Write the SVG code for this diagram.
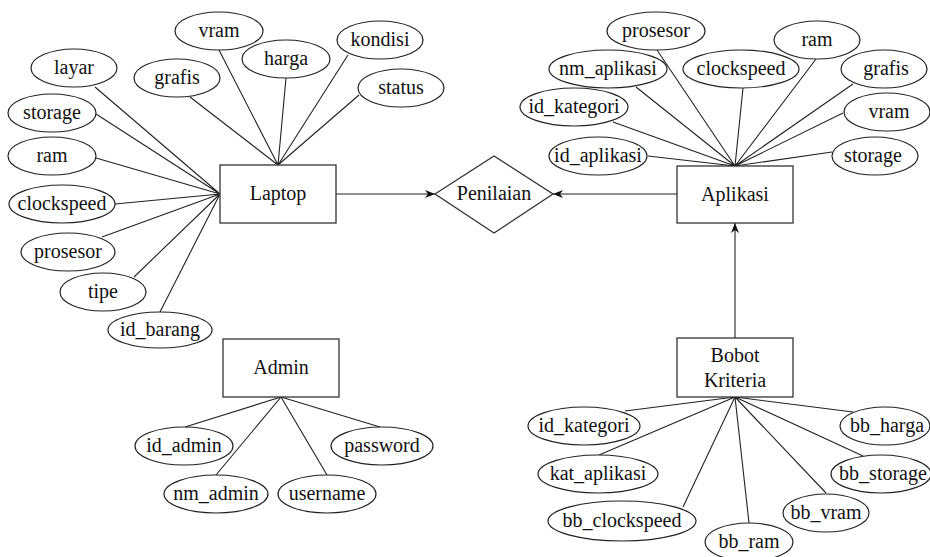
<svg xmlns="http://www.w3.org/2000/svg" width="930" height="557" viewBox="0 0 930 557">
<style>
.e{fill:#fff;stroke:#222;stroke-width:1.2}
.r{fill:#fff;stroke:#333;stroke-width:1.3}
.l{stroke:#222;stroke-width:1.1;fill:none}
.t{font-family:'Liberation Serif','Times New Roman',serif;font-size:20px;fill:#111;text-anchor:middle}
</style>
<defs>
<marker id="ah" viewBox="0 0 10 10" refX="10" refY="5" markerWidth="10" markerHeight="10" markerUnits="userSpaceOnUse" orient="auto">
<path d="M0,1 L10,5 L0,9 L3,5 Z" fill="#111"/>
</marker>
</defs>
<rect width="930" height="557" fill="#fff"/>
<g id="connectors">
<path class="l" d="M219,50 L278,165 M286,78 L278,165 M348,55 L278,165 M359,95 L278,165 M190,97 L278,165"/>
<path class="l" d="M95,87 L220,194 M96,114 L220,194 M96,158 L220,194 M115,204 L220,194 M102,237 L220,194 M134,277 L220,194 M160,312 L220,194"/>
<path class="l" d="M657,50 L735,166 M636,87 L735,166 M613,122 L735,166 M648,156 L735,166 M743,88 L735,166 M816,59 L735,166 M853,84 L735,166 M843,113 L735,166 M832,152 L735,166"/>
<path class="l" d="M625,411 L735,397 M599,455 L735,397 M683,507 L735,397 M749,523 L735,397 M826,493 L735,397 M863,456 L735,397 M853,412 L735,397"/>
<path class="l" d="M185,427 L281,397 M216,475 L281,397 M327,475 L281,397 M380,427 L281,397"/>
<line class="l" x1="336" y1="194" x2="435" y2="194" marker-end="url(#ah)"/>
<line class="l" x1="677" y1="194" x2="553" y2="194" marker-end="url(#ah)"/>
<line class="l" x1="735" y1="338" x2="735" y2="223" marker-end="url(#ah)"/>
</g>
<g id="laptop"><rect class="r" x="220" y="165" width="116" height="58"/><text class="t" x="278" y="200">Laptop</text></g>
<g id="penilaian"><polygon class="r" points="435,194 494,156 553,194 494,233"/><text class="t" x="494" y="200">Penilaian</text></g>
<g id="aplikasi"><rect class="r" x="677" y="166" width="116" height="57"/><text class="t" x="735" y="201">Aplikasi</text></g>
<g id="admin"><rect class="r" x="223" y="339" width="116" height="58"/><text class="t" x="281" y="374">Admin</text></g>
<g id="bobot"><rect class="r" x="677" y="338" width="116" height="59"/><text class="t" x="735" y="362">Bobot</text><text class="t" x="735" y="387">Kriteria</text></g>

<g id="l-vram"><ellipse class="e" cx="219" cy="31" rx="44" ry="19"/><text class="t" x="219" y="37">vram</text></g>
<g id="l-harga"><ellipse class="e" cx="286" cy="59" rx="44" ry="19"/><text class="t" x="286" y="65">harga</text></g>
<g id="l-kondisi"><ellipse class="e" cx="380" cy="40" rx="43" ry="19"/><text class="t" x="380" y="46">kondisi</text></g>
<g id="l-status"><ellipse class="e" cx="401" cy="88" rx="43" ry="19"/><text class="t" x="401" y="94">status</text></g>
<g id="l-grafis"><ellipse class="e" cx="177" cy="78" rx="43" ry="19"/><text class="t" x="177" y="84">grafis</text></g>
<g id="l-layar"><ellipse class="e" cx="74" cy="68" rx="43" ry="19"/><text class="t" x="74" y="74">layar</text></g>
<g id="l-storage"><ellipse class="e" cx="52" cy="113" rx="44" ry="19"/><text class="t" x="52" y="119">storage</text></g>
<g id="l-ram"><ellipse class="e" cx="52" cy="156" rx="44" ry="19"/><text class="t" x="52" y="162">ram</text></g>
<g id="l-clockspeed"><ellipse class="e" cx="62" cy="204" rx="53" ry="19"/><text class="t" x="62" y="210">clockspeed</text></g>
<g id="l-prosesor"><ellipse class="e" cx="68" cy="252" rx="47" ry="19"/><text class="t" x="68" y="258">prosesor</text></g>
<g id="l-tipe"><ellipse class="e" cx="103" cy="292" rx="43" ry="19"/><text class="t" x="103" y="298">tipe</text></g>
<g id="l-id_barang"><ellipse class="e" cx="160" cy="330" rx="52" ry="18"/><text class="t" x="160" y="336">id_barang</text></g>

<g id="a-prosesor"><ellipse class="e" cx="656" cy="31" rx="49" ry="19"/><text class="t" x="656" y="37">prosesor</text></g>
<g id="a-nm_aplikasi"><ellipse class="e" cx="608" cy="69" rx="59" ry="19"/><text class="t" x="608" y="75">nm_aplikasi</text></g>
<g id="a-id_kategori"><ellipse class="e" cx="574" cy="107" rx="54" ry="19"/><text class="t" x="574" y="113">id_kategori</text></g>
<g id="a-id_aplikasi"><ellipse class="e" cx="598" cy="156" rx="49" ry="19"/><text class="t" x="598" y="162">id_aplikasi</text></g>
<g id="a-clockspeed"><ellipse class="e" cx="741" cy="69" rx="58" ry="19"/><text class="t" x="741" y="75">clockspeed</text></g>
<g id="a-ram"><ellipse class="e" cx="817" cy="40" rx="43" ry="19"/><text class="t" x="817" y="46">ram</text></g>
<g id="a-grafis"><ellipse class="e" cx="884" cy="69" rx="43" ry="19"/><text class="t" x="886" y="75">grafis</text></g>
<g id="a-vram"><ellipse class="e" cx="887" cy="112" rx="43" ry="19"/><text class="t" x="889" y="118">vram</text></g>
<g id="a-storage"><ellipse class="e" cx="875" cy="156" rx="43" ry="19"/><text class="t" x="873" y="162">storage</text></g>

<g id="b-id_kategori"><ellipse class="e" cx="584" cy="426" rx="56" ry="19"/><text class="t" x="584" y="432">id_kategori</text></g>
<g id="b-kat_aplikasi"><ellipse class="e" cx="598" cy="474" rx="60" ry="19"/><text class="t" x="598" y="480">kat_aplikasi</text></g>
<g id="b-bb_clockspeed"><ellipse class="e" cx="622" cy="521" rx="74" ry="20"/><text class="t" x="622" y="527">bb_clockspeed</text></g>
<g id="b-bb_ram"><ellipse class="e" cx="749" cy="542" rx="44" ry="19"/><text class="t" x="749" y="548">bb_ram</text></g>
<g id="b-bb_vram"><ellipse class="e" cx="826" cy="513" rx="43" ry="19"/><text class="t" x="826" y="519">bb_vram</text></g>
<g id="b-bb_storage"><ellipse class="e" cx="881" cy="474" rx="50" ry="19"/><text class="t" x="883" y="480">bb_storage</text></g>
<g id="b-bb_harga"><ellipse class="e" cx="885" cy="426" rx="45" ry="19"/><text class="t" x="887" y="432">bb_harga</text></g>

<g id="d-id_admin"><ellipse class="e" cx="184" cy="446" rx="49" ry="19"/><text class="t" x="184" y="452">id_admin</text></g>
<g id="d-nm_admin"><ellipse class="e" cx="216" cy="494" rx="52" ry="19"/><text class="t" x="216" y="500">nm_admin</text></g>
<g id="d-username"><ellipse class="e" cx="327" cy="494" rx="49" ry="19"/><text class="t" x="327" y="500">username</text></g>
<g id="d-password"><ellipse class="e" cx="382" cy="446" rx="51" ry="19"/><text class="t" x="382" y="452">password</text></g>
</svg>
